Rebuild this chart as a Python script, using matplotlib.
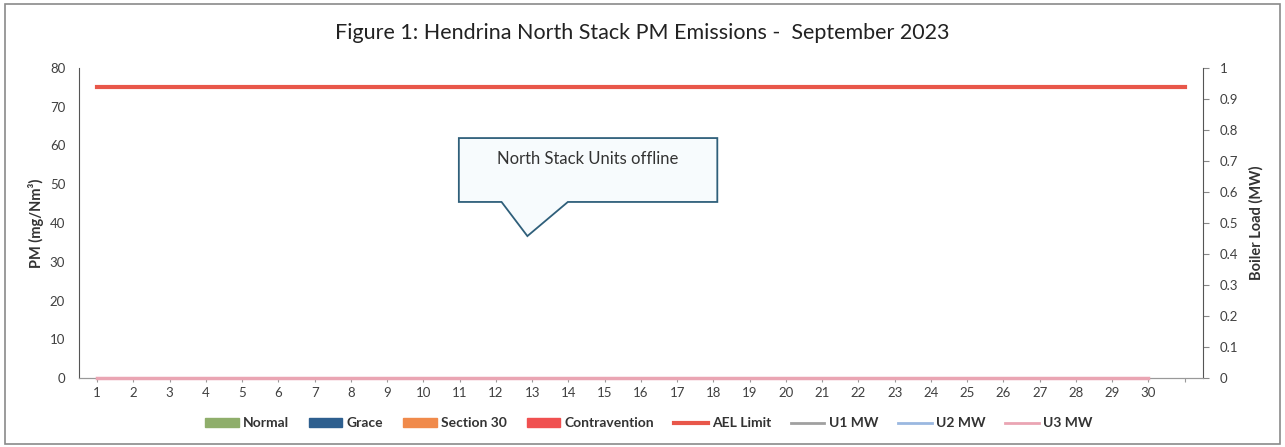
import matplotlib.pyplot as plt
from matplotlib.patches import Patch, Polygon
from matplotlib.lines import Line2D
import numpy as np

plt.rcParams['font.family'] = ['Lato', 'DejaVu Sans']

# days of the month (31st slot has no label)
days = list(range(1, 32))
day_labels = [str(d) for d in range(1, 31)] + ['']

# PM emissions (mg/Nm3) - units offline, nothing measured
normal = [0] * 30
grace = [0] * 30
section30 = [0] * 30
contravention = [0] * 30
ael_limit = [75] * 31

# boiler load (MW)
u1_mw = [0] * 30
u2_mw = [0] * 30
u3_mw = [0] * 30

fig = plt.figure(figsize=(12.85, 4.47), dpi=100)
ax = fig.add_axes([0.0615, 0.154, 0.8745, 0.694])
ax2 = ax.twinx()

x = np.arange(len(days))
xs = x[:30]
ax.bar(xs, normal, color='#8fae6b', width=0.6)
ax.bar(xs, grace, bottom=normal, color='#2e5f8f', width=0.6)
ax.bar(xs, section30, color='#f08a4b', width=0.6)
ax.bar(xs, contravention, color='#f05050', width=0.6)
ax.plot(x, ael_limit, color='#e8574a', lw=3)

ax2.plot(xs, u1_mw, color='#a0a0a0', lw=2, clip_on=False)
ax2.plot(xs, u2_mw, color='#9ab8e0', lw=2, clip_on=False)
ax2.plot(xs, u3_mw, color='#eaa5b3', lw=2.5, clip_on=False, zorder=4)

ax.set_xlim(-0.5, len(days) - 0.5)
ax.set_ylim(0, 80)
ax.set_yticks(range(0, 81, 10))
ax2.set_ylim(0, 1)
ax2.set_yticks(np.arange(0, 1.01, 0.1))
ax2.set_yticklabels(['0'] + ['%.1f' % v for v in np.arange(0.1, 0.95, 0.1)] + ['1'])
ax.set_xticks(x)
ax.set_xticklabels(day_labels)

for a in (ax, ax2):
    a.spines['top'].set_visible(False)
    a.tick_params(labelsize=9.5, colors='#404040')
ax.spines['left'].set_color('#555555')
ax.spines['right'].set_visible(False)
ax2.spines['left'].set_visible(False)
ax2.spines['right'].set_color('#555555')
ax2.spines['bottom'].set_color('#999999')
ax.spines['bottom'].set_color('#999999')
ax.tick_params(axis='y', length=0, pad=10)
ax.tick_params(axis='x', length=3, color='#999999')
ax2.tick_params(axis='y', length=4, color='#888888', pad=8)

ax.set_ylabel('PM (mg/Nm³)', fontsize=10.5, color='#333333', fontweight='bold')
ax2.set_ylabel('Boiler Load (MW)', fontsize=10.5, color='#333333', labelpad=8,
               fontweight='bold')

fig.suptitle('Figure 1: Hendrina North Stack PM Emissions -  September 2023',
             fontsize=15.5, y=0.948, color='#222222')

# callout box
callout = Polygon([(0.338, 0.774), (0.568, 0.774), (0.568, 0.568), (0.435, 0.568),
                   (0.399, 0.458), (0.376, 0.568), (0.338, 0.568)],
                  closed=True, transform=ax.transAxes, facecolor='#f7fbfd',
                  edgecolor='#2f5f7a', lw=1.3, zorder=5)
ax.add_patch(callout)
ax.text(0.453, 0.708, 'North Stack Units offline', transform=ax.transAxes,
        ha='center', va='center', fontsize=12, color='#333333', zorder=6)

handles = [
    Patch(color='#8fae6b', label='Normal'),
    Patch(color='#2e5f8f', label='Grace'),
    Patch(color='#f08a4b', label='Section 30'),
    Patch(color='#f05050', label='Contravention'),
    Line2D([], [], color='#e8574a', lw=3, label='AEL Limit'),
    Line2D([], [], color='#a0a0a0', lw=2, label='U1 MW'),
    Line2D([], [], color='#9ab8e0', lw=2, label='U2 MW'),
    Line2D([], [], color='#eaa5b3', lw=2, label='U3 MW'),
]
leg = fig.legend(handles=handles, loc='center', bbox_to_anchor=(0.505, 0.053), ncol=8,
                 frameon=False, handlelength=2.4, handleheight=0.55,
                 columnspacing=1.45, handletextpad=0.3,
                 prop={'size': 10, 'weight': 'bold'})
for t in leg.get_texts():
    t.set_color('#333333')

# outer chart border
fig.patches.append(plt.Rectangle((0.004, 0.006), 0.992, 0.985, transform=fig.transFigure,
                                 fill=False, edgecolor='#8a8a8a', lw=1.2))

fig.savefig('out.png', dpi=100)
